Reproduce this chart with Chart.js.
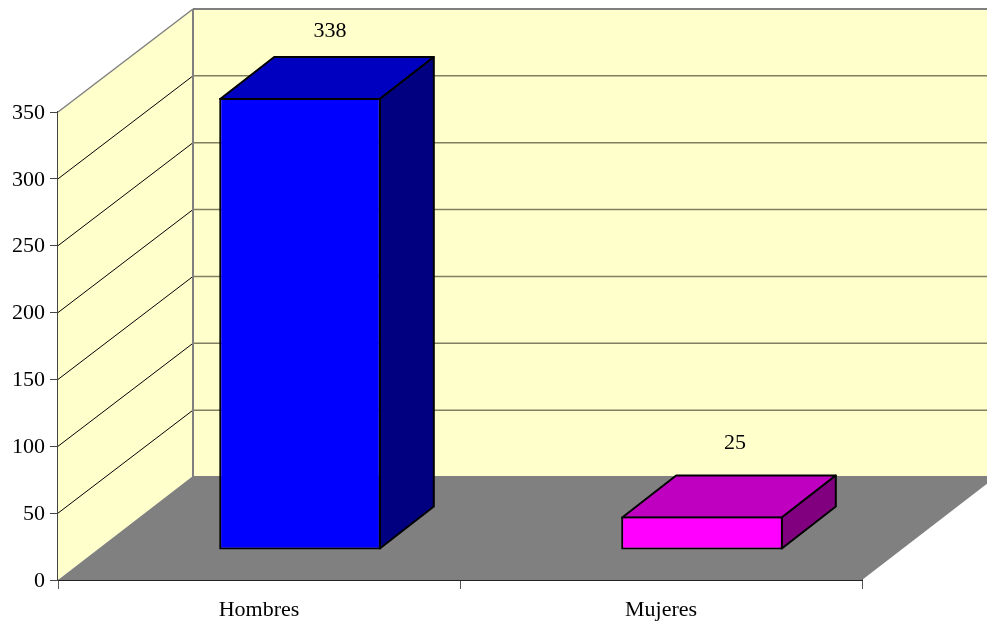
<!DOCTYPE html>
<html lang="es">
<head>
<meta charset="utf-8">
<title>Hombres y Mujeres</title>
<script src="https://cdn.jsdelivr.net/npm/chart.js@4/dist/chart.umd.min.js"></script>
<style>
  html, body { margin: 0; padding: 0; background: #fff; }
  canvas { display: block; }
</style>
</head>
<body>
<canvas id="chart" width="987" height="623"></canvas>
<script>
// Data
const categorias = ["Hombres", "Mujeres"];
const valores = [338, 25];
const yTicks = [0, 50, 100, 150, 200, 250, 300, 350];

// Face colours of each bar
const coloresFrente = ["#0000FF", "#FF00FF"];
const coloresTapa = ["#0000C0", "#C000C0"];
const coloresLado = ["#000080", "#800080"];

// Fake 3D: depth of the walls, where bars stand on the floor, depth of the bars
const FONDO = { x: 135, y: -103 };
const BASE_BARRA = { x: 41, y: -30 };
const PROF_BARRA = { x: 54, y: -42 };
const etiquetaDx = [30, 33];
const etiquetaDy = [-25, -31];

const FUENTE = "'Liberation Serif', 'Times New Roman', serif";
const TAM_FUENTE = 22;
const GRIS = "#808080";

function poligono(ctx, pts, fill, stroke, lw) {
  ctx.beginPath();
  pts.forEach((p, i) => i ? ctx.lineTo(p[0], p[1]) : ctx.moveTo(p[0], p[1]));
  ctx.closePath();
  if (fill) { ctx.fillStyle = fill; ctx.fill(); }
  if (stroke) { ctx.strokeStyle = stroke; ctx.lineWidth = lw; ctx.lineJoin = "round"; ctx.stroke(); }
}

function linea(ctx, x1, y1, x2, y2, color, lw) {
  ctx.beginPath();
  ctx.moveTo(x1, y1);
  ctx.lineTo(x2, y2);
  ctx.strokeStyle = color;
  ctx.lineWidth = lw;
  ctx.stroke();
}

// Walls, floor and gridlines, all from the y scale
const paredes = {
  id: "paredes",
  beforeDatasetsDraw(chart) {
    const { ctx, chartArea: a, scales: { y } } = chart;
    const fx = a.left + FONDO.x;
    const techo = y.getPixelForValue(350);
    const piso = y.getPixelForValue(0);
    const finX = a.right + FONDO.x;

    ctx.save();
    poligono(ctx, [[a.left, piso], [a.left, techo], [fx, techo + FONDO.y], [fx, piso + FONDO.y]], "#FFFFCC");
    poligono(ctx, [[fx, techo + FONDO.y], [finX, techo + FONDO.y], [finX, piso + FONDO.y], [fx, piso + FONDO.y]], "#FFFFCC");
    poligono(ctx, [[a.left, piso], [fx, piso + FONDO.y - 1], [finX, piso + FONDO.y - 1], [a.right, piso]], GRIS);

    yTicks.slice(1, -1).forEach(v => {
      const py = y.getPixelForValue(v);
      linea(ctx, a.left, py, fx, py + FONDO.y, "#000", 1);
      linea(ctx, fx, py + FONDO.y, finX, py + FONDO.y, "#808060", 1.5);
    });

    // Wall outline
    linea(ctx, a.left, techo, fx, techo + FONDO.y, GRIS, 1.5);
    linea(ctx, fx, techo + FONDO.y, finX, techo + FONDO.y, GRIS, 2);
    linea(ctx, fx, techo + FONDO.y, fx, piso + FONDO.y, GRIS, 2);
    ctx.restore();
  },

  // Top and side faces behind each bar, front face moved back onto the floor
  beforeDatasetDraw(chart, args) {
    const ctx = chart.ctx;
    ctx.save();
    ctx.translate(BASE_BARRA.x, BASE_BARRA.y);
    args.meta.data.forEach((el, i) => {
      const izq = el.x - el.width / 2 + 1;
      const der = el.x + el.width / 2 - 1;
      const arriba = el.y + 1;
      const abajo = el.base - 1;
      const dx = PROF_BARRA.x;
      const dy = PROF_BARRA.y;
      poligono(ctx, [[izq, arriba], [izq + dx, arriba + dy], [der + dx, arriba + dy], [der, arriba]], coloresTapa[i], "#000", 2);
      poligono(ctx, [[der, arriba], [der + dx, arriba + dy], [der + dx, abajo + dy], [der, abajo]], coloresLado[i], "#000", 2);
    });
  },
  afterDatasetDraw(chart, args) {
    const ctx = chart.ctx;
    ctx.restore();
    // Value labels above the bars
    ctx.save();
    ctx.font = TAM_FUENTE + "px " + FUENTE;
    ctx.fillStyle = "#000";
    ctx.textAlign = "center";
    ctx.textBaseline = "middle";
    args.meta.data.forEach((el, i) => {
      ctx.fillText(String(valores[i]),
        el.x + BASE_BARRA.x + etiquetaDx[i],
        el.y + BASE_BARRA.y + PROF_BARRA.y + etiquetaDy[i]);
    });
    ctx.restore();
  }
};

new Chart(document.getElementById("chart"), {
  type: "bar",
  plugins: [paredes],
  data: {
    labels: categorias,
    datasets: [{
      data: valores,
      backgroundColor: coloresFrente,
      borderColor: "#000",
      borderWidth: 2,
      borderSkipped: false,
      categoryPercentage: 1,
      barPercentage: 0.402,
      clip: false
    }]
  },
  options: {
    responsive: false,
    animation: false,
    layout: { padding: { top: 112, right: 125, left: 0, bottom: 0 } },
    plugins: { legend: { display: false }, title: { display: false }, tooltip: { enabled: false } },
    scales: {
      x: {
        afterFit: s => { s.height = 43; },
        grid: { offset: true, drawOnChartArea: false, color: "#555", tickLength: 9 },
        border: { color: "#222", width: 2 },
        ticks: { color: "#000", font: { family: FUENTE, size: TAM_FUENTE }, padding: 8, maxRotation: 0 }
      },
      y: {
        min: 0,
        max: 350,
        afterFit: s => { s.width = 58; },
        afterBuildTicks: s => { s.ticks = yTicks.map(v => ({ value: v })); },
        grid: { drawOnChartArea: false, color: "#444", tickLength: 8 },
        border: { color: "#444", width: 1.5 },
        ticks: { color: "#000", font: { family: FUENTE, size: TAM_FUENTE }, padding: 5, labelOffset: 1 }
      }
    }
  }
});
</script>
</body>
</html>
